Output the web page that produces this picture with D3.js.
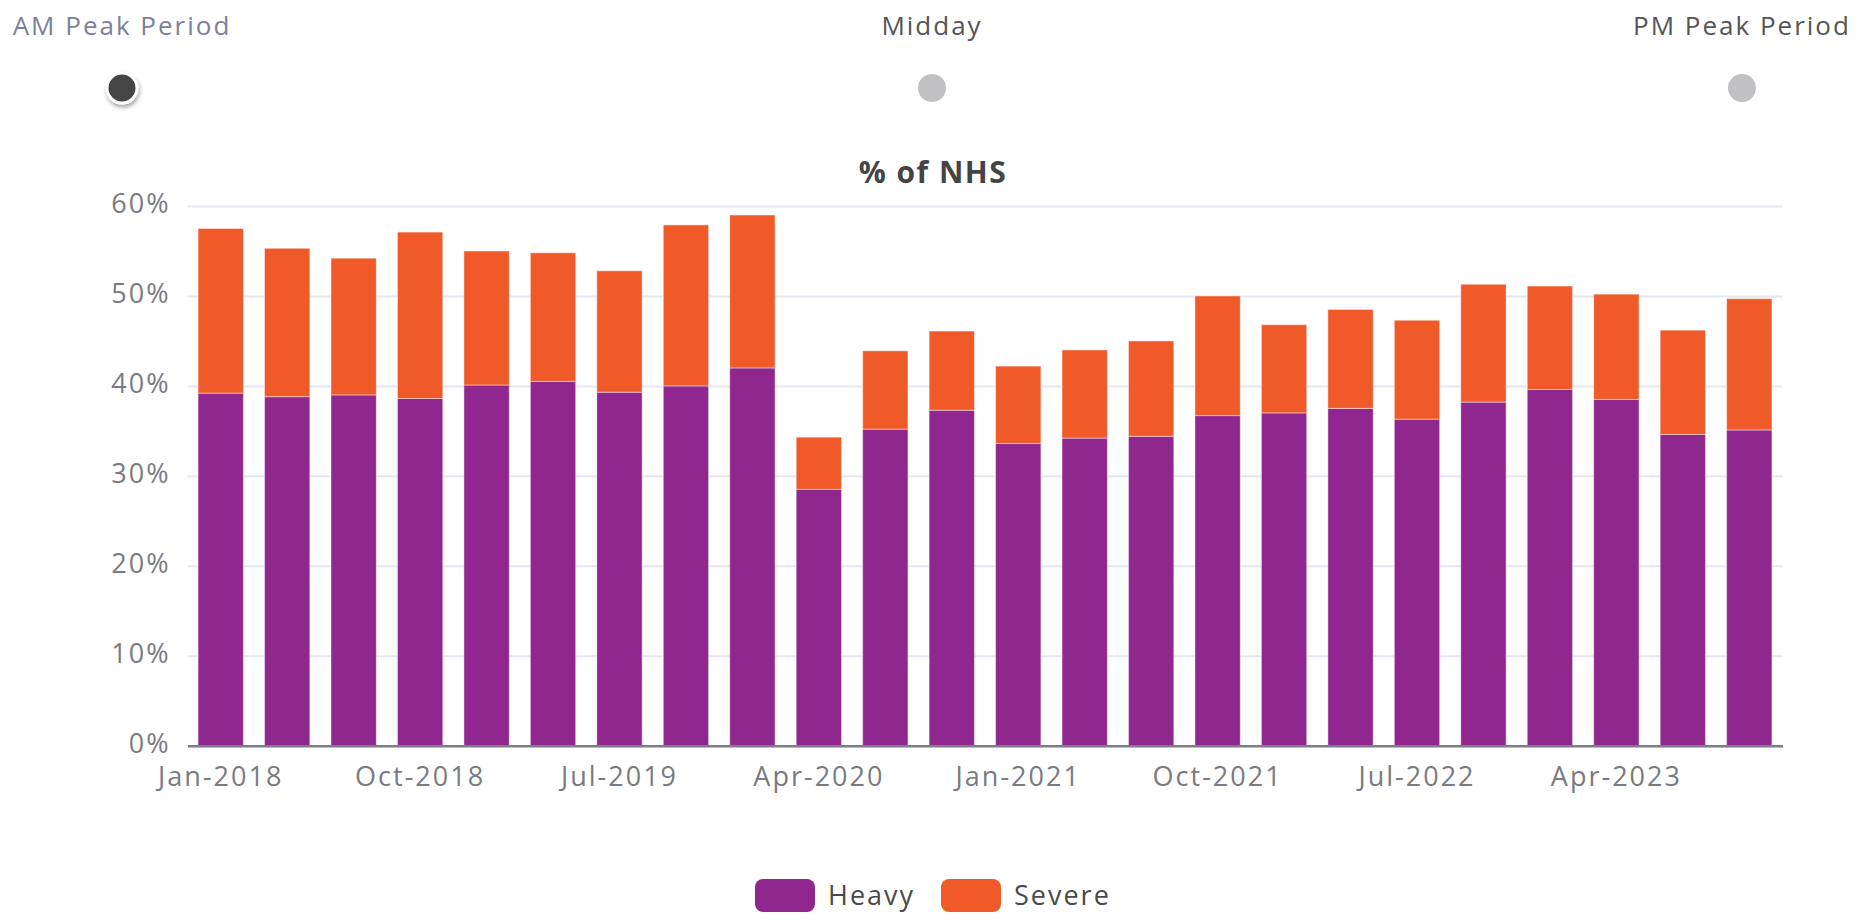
<!DOCTYPE html>
<html>
<head>
  <meta charset="utf-8">
  <title>% of NHS</title>
  <script src="https://cdnjs.cloudflare.com/ajax/libs/d3/7.8.5/d3.min.js"></script>
  <style>
    body { margin: 0; background: #fff; }
    text { font-family: "Open Sans", sans-serif; letter-spacing: 2px; }
    .grid line { stroke: #e3e7f1; stroke-width: 2; }
    .grid path { display: none; }
    .yaxis text, .xaxis text { fill: #7a7a82; font-size: 27px; }
  </style>
</head>
<body>
<div id="chart"></div>
<script>

// quarterly periods
var categories = ["Jan-2018","Apr-2018","Jul-2018","Oct-2018","Jan-2019","Apr-2019","Jul-2019","Oct-2019",
  "Jan-2020","Apr-2020","Jul-2020","Oct-2020","Jan-2021","Apr-2021","Jul-2021","Oct-2021",
  "Jan-2022","Apr-2022","Jul-2022","Oct-2022","Jan-2023","Apr-2023","Jul-2023","Oct-2023"];

var heavy  = [39.2, 38.8, 39.0, 38.6, 40.1, 40.5, 39.3, 40.0, 42.0, 28.5, 35.2, 37.3,
              33.6, 34.2, 34.4, 36.7, 37.0, 37.5, 36.3, 38.2, 39.6, 38.5, 34.6, 35.1];
var severe = [18.3, 16.5, 15.2, 18.5, 14.9, 14.3, 13.5, 17.9, 17.0, 5.8, 8.7, 8.8,
              8.6, 9.8, 10.6, 13.3, 9.8, 11.0, 11.0, 13.1, 11.5, 11.7, 11.6, 14.6];

var yTicks = [0, 10, 20, 30, 40, 50, 60];
var periods = ["AM Peak Period", "Midday", "PM Peak Period"];
var seriesNames = ["Heavy", "Severe"];
var colors = {Heavy: "#90278e", Severe: "#f05a29"};

var W = 1870, H = 923;
var margin = {top: 206, right: 87.5, bottom: 177.3, left: 187.5};

var svg = d3.select("#chart").append("svg")
    .attr("width", W)
    .attr("height", H);

// period selector on top
var px = d3.scalePoint().domain(periods).range([122, 1742]);
svg.selectAll(".plabel")
  .data(periods)
  .enter().append("text")
    .attr("x", d => px(d))
    .attr("y", 35)
    .attr("text-anchor", "middle")
    .style("font-size", "26px")
    .style("fill", (d, i) => i == 0 ? "#7b8199" : "#555")
    .text(d => d);

var defs = svg.append("defs");
var f = defs.append("filter").attr("id", "shadow").attr("x", "-50%").attr("y", "-50%").attr("width", "200%").attr("height", "200%");
f.append("feDropShadow").attr("dx", 1).attr("dy", 3).attr("stdDeviation", 2).attr("flood-color", "#000").attr("flood-opacity", 0.35);

svg.selectAll(".dot")
  .data(periods)
  .enter().append("circle")
    .attr("cx", d => px(d))
    .attr("cy", 88)
    .attr("r", (d, i) => i == 0 ? 15 : 14)
    .attr("fill", (d, i) => i == 0 ? "#444" : "#c1c1c4")
    .attr("stroke", (d, i) => i == 0 ? "#fff" : "none")
    .attr("stroke-width", 3)
    .attr("filter", (d, i) => i == 0 ? "url(#shadow)" : null);

// title
svg.append("text")
  .attr("x", 933)
  .attr("y", 183)
  .attr("text-anchor", "middle")
  .style("font-size", "30px")
  .style("font-weight", "bold")
  .style("letter-spacing", "1.5px")
  .style("fill", "#444")
  .text("% of NHS");

var width = W - margin.left - margin.right,
    height = H - margin.top - margin.bottom;

var g = svg.append("g")
  .attr("transform", "translate(" + margin.left + "," + margin.top + ")");

var x = d3.scaleBand()
  .domain(categories)
  .range([0, width])
  .paddingInner(0.318)
  .paddingOuter(0.159);

var y = d3.scaleLinear().domain([0, 60]).range([height, 0]);

// gridlines
g.append("g")
  .attr("class", "grid")
  .call(d3.axisLeft(y).tickValues(yTicks).tickSize(-width).tickFormat(""));

// y labels
var ya = g.append("g")
  .attr("class", "yaxis")
  .call(d3.axisLeft(y).tickValues(yTicks).tickSize(0).tickPadding(17).tickFormat(d => d + "%"));
ya.select(".domain").remove();
ya.selectAll("text").attr("dy", "0.25em");

// stacked bars
var rows = categories.map((c, i) => ({cat: c, Heavy: heavy[i], Severe: severe[i]}));
var stack = d3.stack().keys(seriesNames)(rows);

g.selectAll(".series")
  .data(stack)
  .enter().append("g")
    .attr("fill", d => colors[d.key])
  .selectAll("rect")
  .data(d => d)
  .enter().append("rect")
    .attr("x", d => x(d.data.cat))
    .attr("y", d => y(d[1]))
    .attr("width", x.bandwidth())
    .attr("height", d => y(d[0]) - y(d[1]))
    .attr("stroke", "#fff")
    .attr("stroke-opacity", 0.45)
    .attr("stroke-width", 1);

// x axis
var xa = g.append("g")
  .attr("class", "xaxis")
  .attr("transform", "translate(0," + height + ")")
  .call(d3.axisBottom(x).tickValues(categories.filter((c, i) => i % 3 == 0)).tickSize(0).tickPadding(21));
xa.select(".domain").attr("stroke", "#7d7d88").attr("stroke-width", 2.5);

// legend
var lg = svg.append("g");
var lx = d3.scaleOrdinal().domain(seriesNames).range([755, 941]);
lg.selectAll("rect")
  .data(seriesNames)
  .enter().append("rect")
    .attr("x", d => lx(d))
    .attr("y", 879)
    .attr("width", 60)
    .attr("height", 33)
    .attr("rx", 8)
    .attr("fill", d => colors[d]);
lg.selectAll("text")
  .data(seriesNames)
  .enter().append("text")
    .attr("x", d => lx(d) + 73)
    .attr("y", 905)
    .style("font-size", "27px")
    .style("fill", "#4a4a4a")
    .text(d => d);

</script>
</body>
</html>
